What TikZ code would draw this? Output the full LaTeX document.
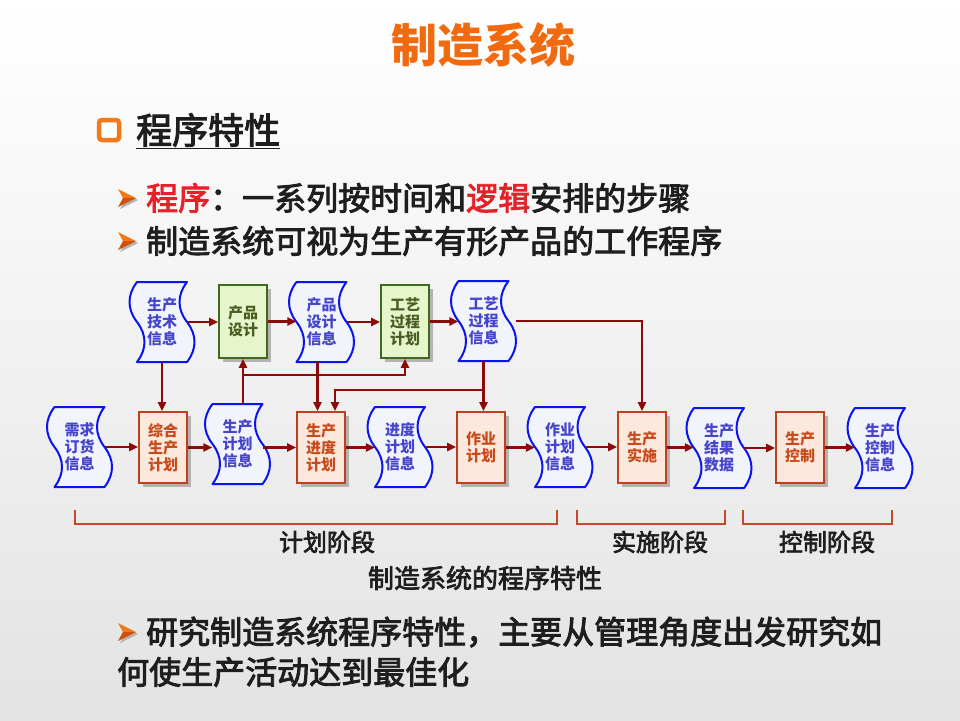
\documentclass[tikz,border=0pt]{standalone}
\usepackage{fontspec}
\setmainfont{Noto Sans CJK SC}
\newfontfamily\medfont[FakeBold=2.8]{Noto Sans CJK SC}
\usetikzlibrary{arrows.meta,shadows,calc}
\definecolor{arrred}{HTML}{8B0A0A}
\definecolor{docblue}{HTML}{0A14F0}
\definecolor{docfill}{HTML}{F2F4FC}
\definecolor{doctext}{HTML}{4545CC}
\definecolor{boxedge}{HTML}{C0401E}
\definecolor{boxfill}{HTML}{FDE8DE}
\definecolor{boxtext}{HTML}{C84A1A}
\definecolor{grnedge}{HTML}{3F6A1E}
\definecolor{grnfill}{HTML}{E6F5CC}
\definecolor{grntext}{HTML}{4A5E22}
\definecolor{ttlorange}{HTML}{F26A10}
\definecolor{bulorange}{HTML}{F07A1A}
\definecolor{buldark}{HTML}{D0500A}
\definecolor{hired}{HTML}{E8202A}
\definecolor{brk}{HTML}{C8462A}
\definecolor{txt}{HTML}{1E1E1E}
\tikzset{
  arr/.style={draw=arrred, line width=2.2pt, -{Triangle[length=9pt,width=8pt]}},
  procbox/.style={draw=boxedge, fill=boxfill, line width=1.8pt, minimum width=48pt,
    minimum height=71pt, inner sep=0pt, font=\fontsize{15}{17}\selectfont\bfseries,
    text=boxtext, align=center,
    drop shadow={shadow xshift=4pt, shadow yshift=-4pt, fill=black!40, opacity=0.7}},
  greenbox/.style={procbox, draw=grnedge, fill=grnfill, text=grntext, minimum height=73pt},
  docnode/.style={minimum width=50pt, minimum height=80pt, inner sep=0pt,
    font=\fontsize{15}{17}\selectfont\bfseries, text=doctext, align=center},
  docline/.style={draw=docblue, line width=2pt, fill=docfill, line join=round},
  brace/.style={draw=brk, line width=1.6pt},
  phase/.style={font=\medfont\fontsize{24}{28}\selectfont, text=txt},
  bodytext/.style={font=\medfont\fontsize{32}{36}\selectfont, text=txt, inner sep=0pt}
}
\newcommand\docat[4]{%
  \draw[docline, shift={(#2,#3)}] (-25,-40) -- (25,-40)
    .. controls (15,-27) and (15,-13) .. (25,0)
    .. controls (35,13) and (35,27) .. (25,40) -- (-25,40)
    .. controls (-15,27) and (-15,13) .. (-25,0)
    .. controls (-35,-13) and (-35,-27) .. (-25,-40) -- cycle;
  \node[docnode] (#1) at (#2,#3) {#4};
}
\newcommand\arrowbullet[2]{%
  \begin{scope}[shift={(#1,#2)}]
    \fill[black!30] (-7,-7) -- (11,2) -- (-7,11) -- (-2,2) -- cycle;
    \fill[bulorange] (-9,-9) -- (9,0) -- (-4,0) -- cycle;
    \fill[buldark] (-9,9) -- (9,0) -- (-4,0) -- cycle;
  \end{scope}
}
\begin{document}
\begin{tikzpicture}[x=1pt,y=-1pt]
\useasboundingbox (0,0) rectangle (960,720);
\shade[top color=white, bottom color=black!11] (0,0) rectangle (960,720);

% title
\node[font=\fontsize{46}{50}\selectfont\bfseries, text=ttlorange] (title) at (483,45) {制造系统};

% heading
\node[draw=bulorange, line width=4.5pt, fill=white, rounded corners=3pt, minimum size=20pt,
  inner sep=0pt, drop shadow={shadow xshift=2pt, shadow yshift=-2pt, fill=black!40, opacity=0.6}] (hbul) at (109,130) {};
\node[anchor=west, font=\medfont\fontsize{36}{40}\selectfont, text=txt, inner sep=0pt] (head) at (136,131) {\underline{程序特性}};

% bullet lines
\arrowbullet{127}{198}
\node[bodytext, anchor=west] (l1) at (146,198) {\textcolor{hired}{程序}：一系列按时间和\textcolor{hired}{逻辑}安排的步骤};
\arrowbullet{127}{241}
\node[bodytext, anchor=west] (l2) at (146,241) {制造系统可视为生产有形产品的工作程序};

% documents
\docat{jsxx}{162}{322}{生产\\技术\\信息}
\docat{cpxx}{321.5}{322}{产品\\设计\\信息}
\docat{gyxx}{483.5}{321}{工艺\\过程\\信息}
\docat{xqxx}{79.5}{447}{需求\\订货\\信息}
\docat{jhxx}{237.5}{444}{生产\\计划\\信息}
\docat{jdxx}{400}{447}{进度\\计划\\信息}
\docat{zyxx}{560}{447}{作业\\计划\\信息}
\docat{jgsj}{719}{448}{生产\\结果\\数据}
\docat{kzxx}{880}{448}{生产\\控制\\信息}

% process boxes
\node[greenbox] (cpsj) at (243,321.5) {产品\\设计};
\node[greenbox] (gygh) at (405,321.5) {工艺\\过程\\计划};
\node[procbox] (zh) at (163,447.5) {综合\\生产\\计划};
\node[procbox] (jd) at (321,447.5) {生产\\进度\\计划};
\node[procbox] (zy) at (481,447.5) {作业\\计划};
\node[procbox] (ss) at (642,447.5) {生产\\实施};
\node[procbox] (kz) at (800,447.5) {生产\\控制};

\coordinate (bus1) at (0,375);
\coordinate (bus2) at (0,390);

% row 1 arrows
\draw[arr] (jsxx.east) -- (jsxx.east -| cpsj.west);
\draw[arr] (cpsj.east) -- (cpsj.east -| cpxx.west);
\draw[arr] (cpxx.east) -- (cpxx.east -| gygh.west);
\draw[arr] (gygh.east) -- (gygh.east -| gyxx.west);
\draw[arr] ([xshift=7pt]gyxx.east) -| (ss.north);

% row 2 arrows
\draw[arr] (xqxx.east) -- (xqxx.east -| zh.west);
\draw[arr] (zh.east) -- (zh.east -| jhxx.west);
\draw[arr] (jhxx.east |- jd.west) -- (jd.west);
\draw[arr] (jd.east) -- (jd.east -| jdxx.west);
\draw[arr] (jdxx.east) -- (jdxx.east -| zy.west);
\draw[arr] (zy.east) -- (zy.east -| zyxx.west);
\draw[arr] (zyxx.east) -- (zyxx.east -| ss.west);
\draw[arr] (ss.east) -- (ss.east -| jgsj.west);
\draw[arr] (jgsj.east) -- (jgsj.east -| kz.west);
\draw[arr] (kz.east) -- (kz.east -| kzxx.west);

% vertical arrows
\draw[arr] (jsxx.south) -- (jsxx.south |- zh.north);
\draw[arr] ([xshift=-4pt]cpxx.south) -- ([xshift=-4pt]cpxx.south |- jd.north);
\draw[arr] (jhxx.north -| cpsj.south) -- (cpsj.south);
\draw[arr] (bus1 -| cpsj.south) -| (gygh.south);
\draw[arr] (gyxx.south) -- (gyxx.south |- zy.north);
\draw[arr] (bus2 -| gyxx.south) -| ([xshift=14pt]jd.north);

% phase brackets
\draw[brace] (75,510) -- (75,524) -- (557,524) -- (557,510);
\draw[brace] (577,510) -- (577,524) -- (725,524) -- (725,510);
\draw[brace] (743,510) -- (743,524) -- (892,524) -- (892,510);
\node[phase] (ph1) at (327,542) {计划阶段};
\node[phase] (ph2) at (660,542) {实施阶段};
\node[phase] (ph3) at (827,542) {控制阶段};
\node[font=\medfont\fontsize{26}{30}\selectfont, text=txt] (cap) at (485,578) {制造系统的程序特性};

% bottom paragraph
\arrowbullet{127}{632}
\node[bodytext, anchor=west] (l3) at (146,632) {研究制造系统程序特性，主要从管理角度出发研究如};
\node[bodytext, anchor=west] (l4) at (117,672) {何使生产活动达到最佳化};
\end{tikzpicture}
\end{document}
